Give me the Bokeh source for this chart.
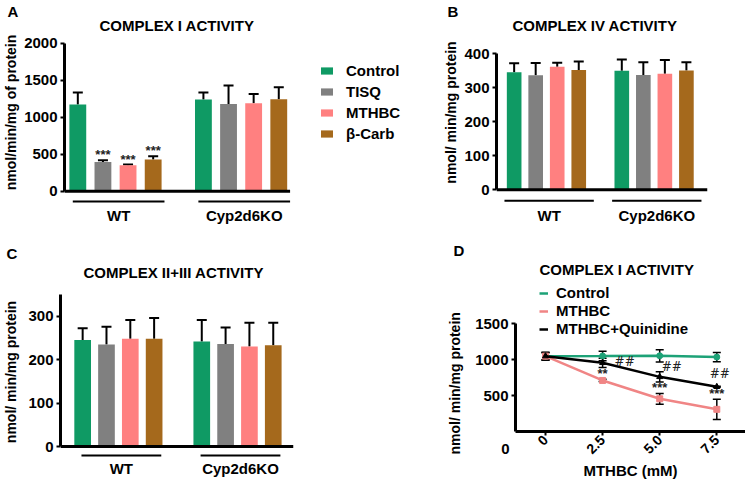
import math
from bokeh.plotting import figure
from bokeh.models import (Range1d, FixedTicker, Whisker, TeeHead, ColumnDataSource,
                          Legend, LegendItem, Title, Label)
from bokeh.core.properties import value
from bokeh.embed import file_html
from bokeh.resources import INLINE

FONT = "Liberation Sans"

# ---------------- data ----------------
treatments = ["Control", "TISQ", "MTHBC", "β-Carb"]
group_labels = ["WT", "Cyp2d6KO"]

# Complex I activity (nmol/min/mg of protein)
c1_wt = [1170, 396, 351, 428]
c1_wt_err = [165, 23, 9, 45]
c1_ko = [1239, 1180, 1189, 1243]
c1_ko_err = [94, 248, 126, 162]
c1_sig_wt = ["", "***", "***", "***"]

# Complex IV activity
c4_wt = [346, 337, 362, 352]
c4_wt_err = [26, 36, 12, 25]
c4_ko = [350, 338, 341, 351]
c4_ko_err = [33, 37, 41, 24]

# Complex II+III activity
c23_wt = [245, 235, 248, 248]
c23_wt_err = [27, 41, 43, 48]
c23_ko = [242, 236, 230, 233]
c23_ko_err = [49, 38, 55, 52]

# Panel D: Complex I activity vs MTHBC dose
dose = [0, 2.5, 5.0, 7.5]
dose_labels = ["0", "2.5", "5.0", "7.5"]
ctrl = [1048, 1050, 1053, 1035]
ctrl_err = [52, 67, 85, 65]
mthbc = [1048, 710, 455, 308]
mthbc_err = [52, 15, 75, 140]
quin = [1048, 955, 760, 622]
quin_err = [52, 65, 72, 8]
mthbc_sig = ["", "**", "***", "***"]
quin_sig = ["", "##", "##", "##"]
series_names = ["Control", "MTHBC", "MTHBC+Quinidine"]

# ---------------- style ----------------
bar_colors = ["#0f9a64", "#808080", "#ff8080", "#a5691c"]
line_colors = ["#1da277", "#f08585", "#000000"]
wt_pos = [0, 1, 2, 3]
ko_pos = [5, 6, 7, 8]


def place(p, left, top):
    p.styles = {"position": "absolute", "left": "%dpx" % left, "top": "%dpx" % top}


def base_style(p, ylabel, yticks, ybounds, label_standoff=3):
    p.xgrid.visible = False
    p.ygrid.visible = False
    p.outline_line_color = None
    p.background_fill_alpha = 0
    p.border_fill_alpha = 0
    p.yaxis.ticker = FixedTicker(ticks=yticks)
    p.yaxis.bounds = ybounds
    if ylabel:
        p.yaxis.axis_label = ylabel
    p.yaxis.axis_label_text_font = FONT
    p.yaxis.axis_label_text_font_style = "bold"
    p.yaxis.axis_label_text_font_size = "14px"
    p.yaxis.axis_label_text_color = "black"
    p.yaxis.axis_label_standoff = label_standoff
    p.yaxis.major_label_text_font = FONT
    p.yaxis.major_label_text_font_style = "bold"
    p.yaxis.major_label_text_font_size = "15px"
    p.yaxis.major_label_text_color = "black"
    p.yaxis.major_label_standoff = 3
    p.yaxis.axis_line_width = 3
    p.yaxis.axis_line_color = "black"
    p.yaxis.major_tick_line_width = 2
    p.yaxis.major_tick_line_color = "black"
    p.yaxis.major_tick_out = 4
    p.yaxis.major_tick_in = 0
    p.yaxis.minor_tick_line_color = None


def letter_title(p, letter, letter_off):
    p.add_layout(Title(text=letter, align="left", offset=letter_off, standoff=0,
                       text_line_height=1.0,
                       text_font=FONT, text_font_style="bold", text_font_size="15px",
                       text_color="black"), "above")


def add_titles(p, letter, title, title_off, letter_off, standoff):
    p.add_layout(Title(text=title, align="left", offset=title_off, standoff=standoff,
                       vertical_align="top", text_line_height=1.0,
                       text_font=FONT, text_font_style="bold", text_font_size="15px",
                       text_color="black"), "above")
    letter_title(p, letter, letter_off)


def bar_panel(letter, title, ylabel, wt, wt_err, ko, ko_err, sig, yticks, ybounds,
              xr, axis_end, yr, width, height, borders, bar_w, under_y, pads, title_off,
              letter_off, title_standoff, label_standoff, title_in_frame=None):
    p = figure(width=width, height=height, x_range=Range1d(*xr), y_range=Range1d(*yr),
               output_backend="svg", toolbar_location=None,
               min_border_left=borders[0], min_border_right=borders[1],
               min_border_top=borders[2], min_border_bottom=borders[3])
    base_style(p, ylabel, yticks, ybounds, label_standoff)
    renderers = []
    for i, name in enumerate(treatments):
        src = ColumnDataSource(dict(x=[wt_pos[i], ko_pos[i]], top=[wt[i], ko[i]],
                                    upper=[wt[i] + wt_err[i], ko[i] + ko_err[i]]))
        p.add_layout(Whisker(source=src, base="x", lower="top", upper="upper",
                             line_width=2, line_color="black", lower_head=None,
                             upper_head=TeeHead(size=10, line_width=2, line_color="black")))
        r = p.vbar(x="x", top="top", width=bar_w, source=src,
                   fill_color=bar_colors[i], line_color=None)
        renderers.append(r)
    if sig is not None:
        ssrc = ColumnDataSource(dict(x=wt_pos, y=[a + b for a, b in zip(wt, wt_err)], t=sig))
        p.text(x="x", y="y", text="t", source=ssrc, text_align="center",
               text_baseline="bottom", text_font=value(FONT), text_font_size="13px",
               text_font_style="bold", text_color="#222222", y_offset=2)
    # x axis line at zero
    p.segment(x0=[xr[0]], x1=[axis_end], y0=[0], y1=[0], line_color="black", line_width=3)
    # group underlines
    x0 = [wt_pos[0] - pads[0], ko_pos[0] - pads[0]]
    x1 = [wt_pos[-1] + pads[1], ko_pos[-1] + pads[1]]
    p.segment(x0=x0, x1=x1, y0=[under_y] * 2, y1=[under_y] * 2,
              line_color="black", line_width=2)
    centers = [(a + b) / 2 for a, b in zip(x0, x1)]
    p.xaxis.ticker = FixedTicker(ticks=centers)
    p.xaxis.major_label_overrides = dict(zip(centers, group_labels))
    p.xaxis.axis_line_color = None
    p.xaxis.major_tick_line_color = None
    p.xaxis.major_tick_out = 0
    p.xaxis.major_tick_in = 0
    p.xaxis.minor_tick_line_color = None
    p.xaxis.major_label_standoff = 1
    p.xaxis.major_label_text_font = FONT
    p.xaxis.major_label_text_font_style = "bold"
    p.xaxis.major_label_text_font_size = "15px"
    p.xaxis.major_label_text_color = "black"
    if title_in_frame is not None:
        # title drawn inside the (taller) frame, letter as a title above it
        p.add_layout(Label(x=title_off, y=title_in_frame, x_units="screen", y_units="screen",
                           text=title, text_align="left", text_baseline="middle",
                           text_font=FONT, text_font_style="bold", text_font_size="15px",
                           text_color="black"))
        letter_title(p, letter, letter_off)
    else:
        add_titles(p, letter, title, title_off, letter_off, title_standoff)
    return p, renderers


# Panel A (frame extended to the right to hold the legend, and up to hold the title)
pA, rendA = bar_panel("A", "COMPLEX I ACTIVITY", "nmol/min/mg of protein",
                      c1_wt, c1_wt_err, c1_ko, c1_ko_err, c1_sig_wt,
                      [0, 500, 1000, 1500, 2000], (0, 2000),
                      (-0.53, 14.04), 8.45, (-193, 2320), 440, 228, (60, 10, 19, 23),
                      0.67, -139, (0.2, 0.45), 35, -57, 2, 2, title_in_frame=180)
legA = Legend(items=[LegendItem(label=t, renderers=[r]) for t, r in zip(treatments, rendA)],
              location=(255, 63), orientation="vertical",
              glyph_width=15, glyph_height=9, label_height=15, spacing=4,
              label_standoff=12, padding=0, margin=0,
              border_line_color=None, background_fill_alpha=0,
              label_text_font=FONT, label_text_font_style="bold",
              label_text_font_size="15px", label_text_color="black")
pA.add_layout(legA, "center")
place(pA, 0, 0)

# Panel B
pB, _ = bar_panel("B", "COMPLEX IV ACTIVITY", "nmol/ min/mg protein",
                  c4_wt, c4_wt_err, c4_ko, c4_ko_err, None,
                  [0, 100, 200, 300, 400], (0, 400),
                  (-0.82, 8.98), 8.98, (-46.2, 500.9), 305, 228, (52, 38, 19, 23),
                  0.68, -32, (0.45, 0.7), 16, -49, 2, 2, title_in_frame=180)
place(pB, 440, 0)

# Panel C
pC, _ = bar_panel("C", "COMPLEX II+III ACTIVITY", "nmol/ min/mg protein",
                  c23_wt, c23_wt_err, c23_ko, c23_ko_err, None,
                  [0, 100, 200, 300], (0, 350),
                  (-0.93, 8.85), 8.85, (-27.6, 370.7), 439, 254, (57, 146, 57, 24),
                  0.7, -20.7, (0.05, 0.3), 23, -54, 5, 6)
place(pC, 0, 228)

# Panel D
pD = figure(width=306, height=254, x_range=Range1d(-1.313, 8.756), y_range=Range1d(0, 2086),
            output_backend="svg", toolbar_location=None,
            min_border_left=73, min_border_right=0, min_border_top=53, min_border_bottom=48)
base_style(pD, None, [500, 1000, 1500], (0, 1500))
pD.add_layout(Title(text="nmol/ min/mg protein", align="left", offset=-23, standoff=15,
                    vertical_align="top", text_line_height=1.0,
                    text_font=FONT, text_font_style="bold", text_font_size="14px",
                    text_color="black"), "left")
pD.xaxis.ticker = FixedTicker(ticks=dose)
pD.xaxis.major_label_overrides = dict(zip(dose, dose_labels))
pD.xaxis.major_label_orientation = math.pi / 4
pD.xaxis.axis_line_width = 3
pD.xaxis.axis_line_color = "black"
pD.xaxis.major_tick_line_width = 2
pD.xaxis.major_tick_line_color = "black"
pD.xaxis.major_tick_out = 4
pD.xaxis.major_tick_in = 0
pD.xaxis.minor_tick_line_color = None
pD.xaxis.major_label_standoff = 2
pD.xaxis.major_label_text_font = FONT
pD.xaxis.major_label_text_font_style = "bold"
pD.xaxis.major_label_text_font_size = "14px"
pD.xaxis.major_label_text_color = "black"
pD.xaxis.axis_label = "MTHBC (mM)"
pD.xaxis.axis_label_text_font = FONT
pD.xaxis.axis_label_text_font_style = "bold"
pD.xaxis.axis_label_text_font_size = "15px"
pD.xaxis.axis_label_text_color = "black"
pD.xaxis.axis_label_standoff = 1

itemsD = []
markers = ["circle", "square", "triangle"]
for vals, errs, col, mk, name in zip([ctrl, mthbc, quin], [ctrl_err, mthbc_err, quin_err],
                                      line_colors, markers, series_names):
    src = ColumnDataSource(dict(x=dose, y=vals,
                                lo=[v - e for v, e in zip(vals, errs)],
                                hi=[v + e for v, e in zip(vals, errs)]))
    pD.add_layout(Whisker(source=src, base="x", lower="lo", upper="hi",
                          line_width=1.5, line_color="black",
                          upper_head=TeeHead(size=8, line_width=1.5, line_color="black"),
                          lower_head=TeeHead(size=8, line_width=1.5, line_color="black")))
    ln = pD.line("x", "y", source=src, line_color=col, line_width=2.5)
    pD.scatter("x", "y", source=src, marker=mk, size=6, fill_color=col, line_color=col)
    itemsD.append(LegendItem(label=name, renderers=[ln]))

# significance marks
sig_src = ColumnDataSource(dict(x=dose, y=[v + e for v, e in zip(mthbc, mthbc_err)], t=mthbc_sig))
pD.text(x="x", y="y", text="t", source=sig_src, text_align="center", text_baseline="bottom",
        text_font=value(FONT), text_font_size="13px", text_font_style="bold",
        text_color="#222222", y_offset=2)
hash_dx = [0, 12, 2, -7]
hash_dy = [0, -1, -10, -13]
hash_src = ColumnDataSource(dict(x=dose, y=quin, t=quin_sig, dx=hash_dx, dy=hash_dy))
pD.text(x="x", y="y", text="t", source=hash_src, text_align="left", text_baseline="middle",
        text_font=value("DejaVu Serif"), text_font_size="12px", text_color="#222222",
        x_offset="dx", y_offset="dy")

legD = Legend(items=itemsD, location=(24, 94), orientation="vertical",
              glyph_width=9, glyph_height=14, label_height=14, spacing=1,
              label_standoff=8, padding=0, margin=0,
              border_line_color=None, background_fill_alpha=0,
              label_text_font=FONT, label_text_font_style="bold",
              label_text_font_size="15px", label_text_color="black")
pD.add_layout(legD, "center")
add_titles(pD, "D", "COMPLEX I ACTIVITY", 24, -62, 4)
place(pD, 439, 228)

# displaced "0" tick label of panel D's y axis (drawn below the axis corner, as in the figure)
p0 = figure(width=14, height=18, x_range=Range1d(0, 1), y_range=Range1d(0, 1),
            output_backend="svg", toolbar_location=None, min_border=0)
p0.axis.visible = False
p0.grid.visible = False
p0.outline_line_color = None
p0.background_fill_alpha = 0
p0.border_fill_alpha = 0
p0.text(x=[0.5], y=[0.5], text=["0"], text_align="center", text_baseline="middle",
        text_font=value(FONT), text_font_style="bold", text_font_size="15px", text_color="black")
place(p0, 498, 439)

open("out.html", "w").write(file_html([pA, pB, pC, pD, p0], INLINE))
